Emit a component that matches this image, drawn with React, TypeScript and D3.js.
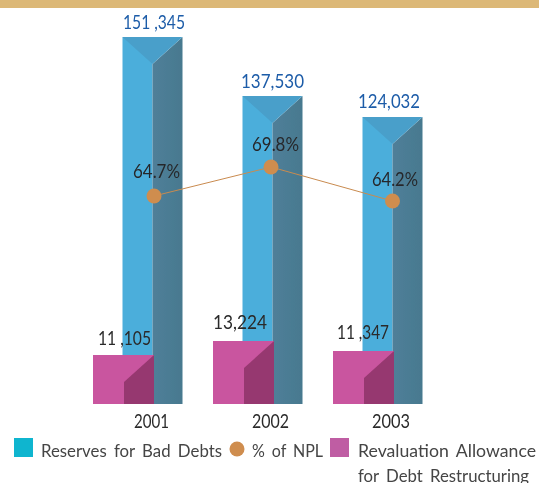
import React from "react";
import * as d3 from "d3";

const years = ["2001", "2002", "2003"];
const reserves = [151345, 137530, 124032];
const reserveLabels = ["151 ,345", "137,530", "124,032"];
const allowance = [11105, 13224, 11347];
const allowanceLabels = ["11 ,105", "13,224", "11 ,347"];
const npl = [64.7, 69.8, 64.2];
const nplLabels = ["64.7%", "69.8%", "64.2%"];

const BASE = 404;
const W = 60;
const FONT = "Lato, 'Open Sans', sans-serif";

// The source graphic is not drawn to a uniform scale, so each scale is piecewise.
const yRes = d3.scaleLinear().domain([124032, 137530, 151345]).range([117, 96, 37]);
const yAll = d3.scaleLinear().domain([11105, 11347, 13224]).range([355, 351, 341]);
const yNpl = d3.scaleLinear().domain([64.2, 64.7, 69.8]).range([201, 196, 167]);
const xBar = d3.scalePoint<string>().domain(years).range([122.5, 362.5]);
const xAll = d3.scalePoint<string>().domain(years).range([93, 333]);
const xDot = d3.scaleOrdinal<string, number>().domain(years).range([154, 271, 392.5]);

// Label layout offsets, per year
const resDX = [1.5, 0, -3.5];
const resDY = [-8, -8, -9];
const resLen = [62, 63, 62];
const nplDX = [2.5, 4.5, 2.5];
const nplDY = [-18, -16, -15];
const nplLen = [47, 47, 46];
const allDX = [1.5, -3, 0];
const allDY = [-10, -12, -12];
const allLen = [53, 54, 52];
const yearDX = [-2.5, -0.5, -1.5];
const yearLen = [35, 37, 38];

const pts = (a: number[][]) => a.map((p) => p.join(",")).join(" ");

const T = (p: any) => <text lengthAdjust="spacingAndGlyphs" {...p} />;

export default function App() {
  const line = d3
    .line<number>()
    .x((_, i) => xDot(years[i])!)
    .y((d) => yNpl(d));
  return (
    <svg
      width={539}
      height={483}
      viewBox="0 0 539 483"
      style={{ position: "fixed", left: 0, top: 0, background: "#fff" }}
      fontFamily={FONT}
    >
      <defs>
        <filter id="soft" x="-10%" y="-10%" width="120%" height="120%">
          <feGaussianBlur stdDeviation="0.6" />
        </filter>
        <filter id="soft2" x="-5%" y="-20%" width="110%" height="140%">
          <feGaussianBlur stdDeviation="0.3" />
        </filter>
        <linearGradient id="side" x1="0" x2="1" y1="0" y2="0">
          <stop offset="0" stopColor="#507f99" />
          <stop offset="1" stopColor="#47798f" />
        </linearGradient>
      </defs>
      <rect x={0} y={0} width={539} height={8} fill="#dcb877" />
      <g filter="url(#soft)">
        {years.map((y, i) => {
          const x = xBar(y)!;
          const t = yRes(reserves[i]);
          const mid = x + W / 2;
          const apex = t + 27;
          return (
            <g key={y}>
              <rect x={x} y={t} width={mid - x} height={BASE - t} fill="#4caedb" />
              <polygon points={pts([[mid, apex], [x + W, t], [x + W, BASE], [mid, BASE]])} fill="url(#side)" />
              <polygon points={pts([[x, t], [x + W, t], [mid, apex]])} fill="#489fca" />
            </g>
          );
        })}
        {years.map((y, i) => {
          const x = xAll(y)!;
          const t = yAll(allowance[i]);
          const mid = x + 31;
          const apex = t + 27;
          return (
            <g key={y}>
              <rect x={x} y={t} width={W + 1} height={BASE - t} fill="#c9549f" />
              <polygon points={pts([[mid, apex], [x + W + 1, t], [x + W + 1, BASE], [mid, BASE]])} fill="#96386f" />
            </g>
          );
        })}
      </g>
      <path d={line(npl)!} fill="none" stroke="#c98b4f" strokeWidth={1} />
      {years.map((y, i) => (
        <circle key={y} cx={xDot(y)!} cy={yNpl(npl[i])} r={7.5} fill="#cf8d4e" />
      ))}
      <g filter="url(#soft2)">
        {years.map((y, i) => (
          <T key={y} x={xBar(y)! + W / 2 + resDX[i]} y={yRes(reserves[i]) + resDY[i]} textAnchor="middle" fontSize={18.5} fill="#1d5ca8" textLength={resLen[i]}>
            {reserveLabels[i]}
          </T>
        ))}
        {years.map((y, i) => (
          <T key={y} x={xDot(y)! + nplDX[i]} y={yNpl(npl[i]) + nplDY[i]} textAnchor="middle" fontSize={18.5} fill="#26282b" textLength={nplLen[i]}>
            {nplLabels[i]}
          </T>
        ))}
        {years.map((y, i) => (
          <T key={y} x={xAll(y)! + W / 2 + allDX[i]} y={yAll(allowance[i]) + allDY[i]} textAnchor="middle" fontSize={18.5} fill="#2a2a2a" textLength={allLen[i]}>
            {allowanceLabels[i]}
          </T>
        ))}
        {years.map((y, i) => (
          <T key={y} x={xDot(y)! + yearDX[i]} y={428} textAnchor="middle" fontSize={18.5} fill="#2a2a2a" textLength={yearLen[i]}>
            {y}
          </T>
        ))}
        <T x={41} y={457} fontSize={17} fill="#444" wordSpacing={3} textLength={181}>
          Reserves for Bad Debts
        </T>
        <T x={252} y={457} fontSize={17} fill="#444" wordSpacing={3} textLength={71}>
          % of NPL
        </T>
        <T x={358} y={457} fontSize={17} fill="#444" wordSpacing={3} textLength={178}>
          Revaluation Allowance
        </T>
        <T x={358} y={482} fontSize={17} fill="#444" wordSpacing={3} textLength={171}>
          for Debt Restructuring
        </T>
      </g>
      <rect x={14} y={438} width={19} height={19} fill="#0fb5cf" />
      <circle cx={237} cy={449} r={7.5} fill="#cf8d4e" />
      <rect x={330} y={438} width={19} height={19} fill="#bf5da3" />
    </svg>
  );
}
